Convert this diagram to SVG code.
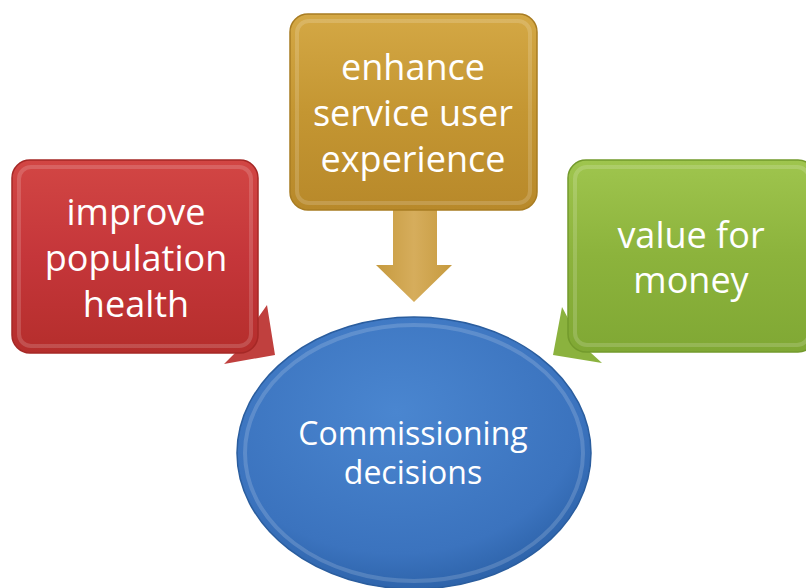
<svg xmlns="http://www.w3.org/2000/svg" width="806" height="588" viewBox="0 0 806 588">
<defs>
<style>
.t{font-family:"Open Sans","Noto Sans",sans-serif;fill:#ffffff;text-anchor:middle}
.b{font-size:36px}
.e{font-size:32px}
.bevel{fill:none;stroke:#ffffff;stroke-opacity:0.16;stroke-width:4}
</style>
<linearGradient id="gRed" x1="0" y1="0" x2="0" y2="1">
<stop offset="0" stop-color="#d24644"/><stop offset="0.5" stop-color="#c5363a"/><stop offset="1" stop-color="#b52e2c"/>
</linearGradient>
<linearGradient id="gGold" x1="0" y1="0" x2="0" y2="1">
<stop offset="0" stop-color="#d4a845"/><stop offset="0.5" stop-color="#c49632"/><stop offset="1" stop-color="#b8892a"/>
</linearGradient>
<linearGradient id="gGreen" x1="0" y1="0" x2="0" y2="1">
<stop offset="0" stop-color="#9fc54e"/><stop offset="0.5" stop-color="#8cb33c"/><stop offset="1" stop-color="#80a834"/>
</linearGradient>
<radialGradient id="gBlue" cx="0.45" cy="0.35" r="0.65">
<stop offset="0" stop-color="#4a86d0"/><stop offset="0.8" stop-color="#3b73be"/><stop offset="1" stop-color="#2e64ab"/>
</radialGradient>
<linearGradient id="gArrow" x1="0" y1="0" x2="1" y2="0">
<stop offset="0" stop-color="#c69a3e"/><stop offset="0.5" stop-color="#d6ad5c"/><stop offset="1" stop-color="#c69a3e"/>
</linearGradient>
</defs>
<g id="connectors">
<polygon points="393,208 437,208 437,265 452,265 414,302 376,265 393,265" fill="url(#gArrow)"/>
<polygon points="255,322 267,305 275,355 224,364 236,352" fill="#c0403e"/>
<polygon points="570,322 562,307 553,355 602,363 590,352" fill="#8bb23e"/>
</g>
<g id="node-red">
<rect x="12" y="160" width="246" height="193" rx="18" fill="url(#gRed)" stroke="#a52826" stroke-width="1.5"/>
<rect x="19" y="167" width="232" height="179" rx="12" class="bevel"/>
<text class="t b" x="136" y="225">improve</text>
<text class="t b" x="136" y="271">population</text>
<text class="t b" x="136" y="317">health</text>
</g>
<g id="node-gold">
<rect x="290" y="14" width="247" height="196" rx="18" fill="url(#gGold)" stroke="#a87c22" stroke-width="1.5"/>
<rect x="297" y="21" width="233" height="182" rx="12" class="bevel"/>
<text class="t b" x="413" y="80">enhance</text>
<text class="t b" x="413" y="126">service user</text>
<text class="t b" x="413" y="172">experience</text>
</g>
<g id="node-green">
<rect x="568" y="160" width="248" height="192" rx="18" fill="url(#gGreen)" stroke="#739a2c" stroke-width="1.5"/>
<rect x="575" y="167" width="234" height="178" rx="12" class="bevel"/>
<text class="t b" x="691" y="248">value for</text>
<text class="t b" x="691" y="293">money</text>
</g>
<g id="node-blue">
<ellipse cx="414" cy="453" rx="177" ry="136" fill="url(#gBlue)" stroke="#2a5d9e" stroke-width="1.5"/>
<ellipse cx="414" cy="453" rx="169" ry="128" class="bevel"/>
<text class="t e" x="413" y="445">Commissioning</text>
<text class="t e" x="413" y="484">decisions</text>
</g>
</svg>
